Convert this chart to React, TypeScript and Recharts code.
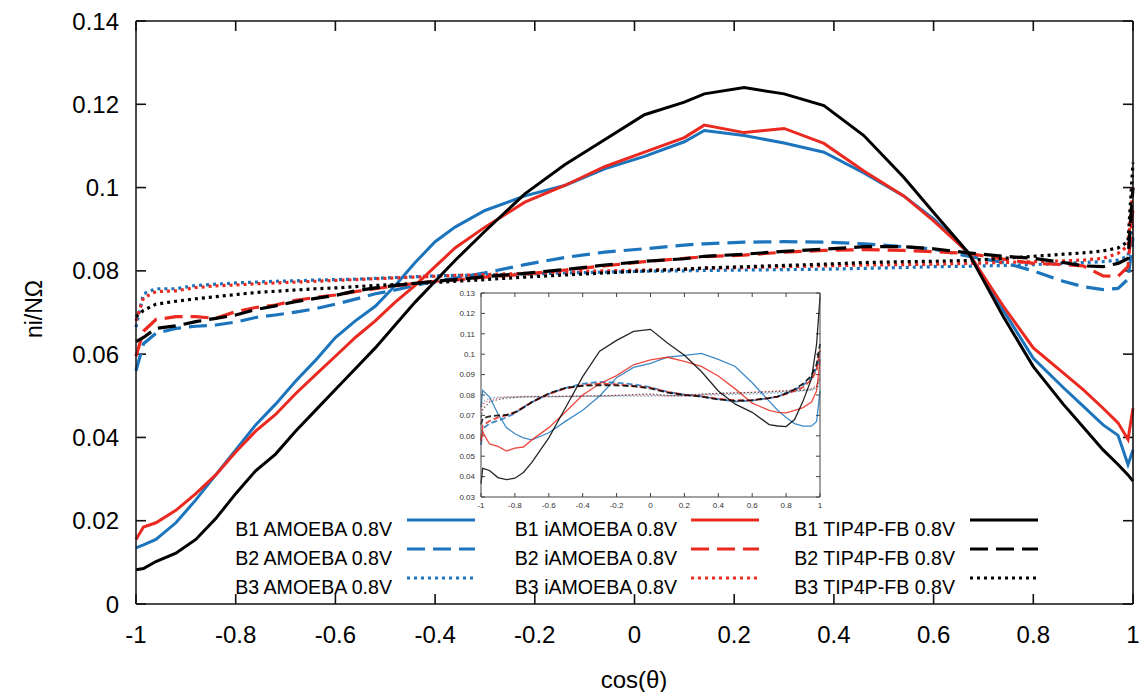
import { Line, LineChart, ReferenceLine, XAxis, YAxis } from "recharts"

const BLUE = "#1c75bc"
const RED = "#ea2a20"
const BLACK = "#000000"
const FONT = '"Liberation Sans", Arial, sans-serif'

// main plot, x = cos(theta)
const mainCos = [-1, -0.985, -0.96, -0.92, -0.88, -0.84, -0.8, -0.76, -0.72, -0.68, -0.64, -0.6, -0.56, -0.52, -0.48, -0.44, -0.4, -0.36, -0.3, -0.22, -0.14, -0.06, 0.02, 0.1, 0.14, 0.22, 0.3, 0.38, 0.46, 0.54, 0.6, 0.67, 0.74, 0.8, 0.86, 0.9, 0.94, 0.97, 0.99, 1]

const b1Amoeba = [0.0135, 0.0142, 0.0155, 0.0195, 0.025, 0.031, 0.037, 0.043, 0.048, 0.0535, 0.0585, 0.064, 0.068, 0.0715, 0.0765, 0.082, 0.087, 0.0905, 0.0945, 0.098, 0.1005, 0.1045, 0.1075, 0.111, 0.1137, 0.1125, 0.1107, 0.1085, 0.1035, 0.098, 0.0925, 0.0843, 0.0705, 0.059, 0.052, 0.0475, 0.043, 0.0405, 0.0335, 0.037]
const b1Iamoeba = [0.0155, 0.0185, 0.0195, 0.0225, 0.0265, 0.031, 0.0365, 0.0415, 0.0455, 0.0505, 0.055, 0.0595, 0.064, 0.068, 0.0725, 0.0765, 0.081, 0.0855, 0.0905, 0.0965, 0.1005, 0.105, 0.1085, 0.112, 0.115, 0.1132, 0.1142, 0.1106, 0.104, 0.098, 0.092, 0.0843, 0.0715, 0.0615, 0.0555, 0.0515, 0.047, 0.0435, 0.0395, 0.047]
const b1Tip4p = [0.0082, 0.0085, 0.0102, 0.0122, 0.0155, 0.0205, 0.0265, 0.032, 0.036, 0.0415, 0.0465, 0.0515, 0.0565, 0.0615, 0.067, 0.0725, 0.0775, 0.0825, 0.0895, 0.0985, 0.1055, 0.1115, 0.1175, 0.1205, 0.1225, 0.124, 0.1225, 0.1197, 0.1125, 0.1025, 0.094, 0.0843, 0.069, 0.057, 0.048, 0.0425, 0.037, 0.0335, 0.031, 0.0295]
const b2Amoeba = [0.056, 0.0625, 0.065, 0.0662, 0.0667, 0.067, 0.0677, 0.0688, 0.0694, 0.0701, 0.0709, 0.072, 0.0732, 0.0745, 0.0754, 0.0765, 0.0775, 0.0782, 0.0795, 0.0815, 0.0832, 0.0845, 0.0853, 0.0862, 0.0865, 0.0869, 0.087, 0.0869, 0.0865, 0.0858, 0.0852, 0.0835, 0.082, 0.08, 0.0775, 0.0762, 0.0755, 0.0758, 0.078, 0.088]
const b2Iamoeba = [0.0595, 0.0655, 0.0683, 0.069, 0.069, 0.0686, 0.0702, 0.0712, 0.0718, 0.0729, 0.0736, 0.0742, 0.075, 0.0757, 0.0764, 0.077, 0.0775, 0.0778, 0.0785, 0.0792, 0.0802, 0.0812, 0.0822, 0.083, 0.0834, 0.0838, 0.0845, 0.0849, 0.0851, 0.0849, 0.0846, 0.0842, 0.0828, 0.0818, 0.0815, 0.0812, 0.0788, 0.0787, 0.081, 0.095]
const b2Tip4p = [0.063, 0.064, 0.0662, 0.0668, 0.0678, 0.0686, 0.0694, 0.0707, 0.0716, 0.0726, 0.0734, 0.0741, 0.0752, 0.0759, 0.0765, 0.077, 0.0775, 0.0779, 0.0786, 0.0794, 0.0803, 0.0814, 0.0823, 0.0829, 0.0835, 0.084, 0.0847, 0.0852, 0.0858, 0.0858, 0.0853, 0.0843, 0.0835, 0.083, 0.082, 0.0812, 0.081, 0.0818, 0.083, 0.1]
const b3Amoeba = [0.0665, 0.0745, 0.0757, 0.0757, 0.0765, 0.0768, 0.0771, 0.0773, 0.0775, 0.0776, 0.0778, 0.0779, 0.078, 0.0782, 0.0784, 0.0786, 0.0788, 0.0789, 0.079, 0.0792, 0.0795, 0.0797, 0.0799, 0.08, 0.0801, 0.0802, 0.0803, 0.0804, 0.0806, 0.0808, 0.081, 0.0811, 0.0813, 0.0815, 0.0818, 0.082, 0.0822, 0.0826, 0.0835, 0.092]
const b3Iamoeba = [0.068, 0.0735, 0.075, 0.0752, 0.076, 0.0764, 0.0766, 0.0769, 0.0771, 0.0773, 0.0775, 0.0777, 0.0779, 0.0781, 0.0783, 0.0785, 0.0787, 0.0789, 0.0791, 0.0794, 0.0797, 0.08, 0.0802, 0.0804, 0.0806, 0.0808, 0.081, 0.0812, 0.0814, 0.0815, 0.0816, 0.0818, 0.082, 0.0822, 0.0824, 0.0826, 0.083, 0.0842, 0.086, 0.1]
const b3Tip4p = [0.069, 0.0705, 0.072, 0.0727, 0.0733, 0.0738, 0.0743, 0.0748, 0.0751, 0.0754, 0.0757, 0.0759, 0.0762, 0.0765, 0.0767, 0.077, 0.0772, 0.0775, 0.0779, 0.0785, 0.079, 0.0795, 0.08, 0.0804, 0.0807, 0.081, 0.0813, 0.0816, 0.082, 0.0822, 0.0823, 0.0825, 0.083, 0.0835, 0.084, 0.0843, 0.0848, 0.0855, 0.087, 0.106]

// inset plot
const insetCos = [-1, -0.99, -0.95, -0.9, -0.85, -0.8, -0.75, -0.7, -0.6, -0.5, -0.4, -0.3, -0.2, -0.1, 0, 0.1, 0.2, 0.3, 0.4, 0.5, 0.6, 0.7, 0.75, 0.8, 0.85, 0.9, 0.95, 0.98, 1]

const inB1Amoeba = [0.074, 0.0823, 0.079, 0.0708, 0.064, 0.061, 0.059, 0.058, 0.0615, 0.0672, 0.0725, 0.0795, 0.0885, 0.0935, 0.0955, 0.0985, 0.0994, 0.1004, 0.0975, 0.094, 0.086, 0.077, 0.0725, 0.069, 0.066, 0.0647, 0.0647, 0.067, 0.082]
const inB1Iamoeba = [0.057, 0.0619, 0.056, 0.0548, 0.0525, 0.054, 0.0545, 0.058, 0.064, 0.0718, 0.08, 0.0855, 0.0895, 0.0948, 0.0972, 0.0985, 0.0965, 0.094, 0.0893, 0.083, 0.076, 0.0725, 0.0715, 0.0712, 0.0725, 0.0738, 0.0765, 0.082, 0.097]
const inB1Tip4p = [0.0365, 0.044, 0.043, 0.0395, 0.0385, 0.0392, 0.042, 0.047, 0.059, 0.074, 0.089, 0.1015, 0.1068, 0.1112, 0.1122, 0.1055, 0.0995, 0.0915, 0.082, 0.0755, 0.0715, 0.0655, 0.0648, 0.0645, 0.068, 0.077, 0.088, 0.105, 0.128]
const inB2Amoeba = [0.0555, 0.0635, 0.066, 0.0675, 0.069, 0.071, 0.074, 0.0765, 0.0805, 0.0835, 0.0855, 0.0864, 0.086, 0.0852, 0.0838, 0.0815, 0.0802, 0.0793, 0.078, 0.0768, 0.0772, 0.0785, 0.0792, 0.0808, 0.0825, 0.0848, 0.0885, 0.093, 0.0985]
const inB2Iamoeba = [0.058, 0.065, 0.0672, 0.069, 0.07, 0.0715, 0.074, 0.0765, 0.0805, 0.0832, 0.0848, 0.0856, 0.0852, 0.0845, 0.0835, 0.0815, 0.0802, 0.0793, 0.0782, 0.0774, 0.0774, 0.0785, 0.0792, 0.0805, 0.082, 0.0838, 0.0875, 0.092, 0.102]
const inB2Tip4p = [0.0655, 0.0685, 0.0695, 0.07, 0.0702, 0.0715, 0.0738, 0.0765, 0.0808, 0.0835, 0.0845, 0.0848, 0.0847, 0.0843, 0.0832, 0.0812, 0.08, 0.0792, 0.0778, 0.0771, 0.0775, 0.0785, 0.0792, 0.0808, 0.0828, 0.0855, 0.0895, 0.095, 0.105]
const inB3Amoeba = [0.074, 0.0765, 0.0785, 0.079, 0.079, 0.079, 0.0791, 0.0791, 0.0792, 0.0792, 0.0793, 0.0793, 0.0794, 0.0794, 0.0795, 0.0796, 0.0798, 0.08, 0.0801, 0.0803, 0.0805, 0.0808, 0.081, 0.0813, 0.0816, 0.082, 0.0825, 0.083, 0.0855]
const inB3Iamoeba = [0.0725, 0.0755, 0.0775, 0.0785, 0.079, 0.0792, 0.0793, 0.0793, 0.0794, 0.0795, 0.0796, 0.0797, 0.0798, 0.0799, 0.08, 0.0795, 0.0795, 0.0802, 0.0806, 0.081, 0.0814, 0.0818, 0.082, 0.0822, 0.0825, 0.0828, 0.0832, 0.0845, 0.0885]
const inB3Tip4p = [0.069, 0.073, 0.0765, 0.0778, 0.0785, 0.0788, 0.079, 0.0791, 0.0792, 0.0793, 0.0794, 0.0795, 0.0798, 0.0802, 0.0805, 0.0798, 0.0797, 0.0805, 0.0808, 0.081, 0.0812, 0.0815, 0.0817, 0.0819, 0.0821, 0.0823, 0.0826, 0.084, 0.0885]

const xTicks = [-1, -0.8, -0.6, -0.4, -0.2, 0, 0.2, 0.4, 0.6, 0.8, 1]
const yTicks = [0, 0.02, 0.04, 0.06, 0.08, 0.1, 0.12, 0.14]
const insetYTicks = [0.03, 0.04, 0.05, 0.06, 0.07, 0.08, 0.09, 0.1, 0.11, 0.12, 0.13]

type Style = "solid" | "dashed" | "dotted"

// col = legend column (force field), row = legend row (bin)
const series: { key: string; name: string; color: string; style: Style; main: number[]; inset: number[]; col: number; row: number }[] = [
  { key: "b1a", name: "B1 AMOEBA 0.8V", color: BLUE, style: "solid", main: b1Amoeba, inset: inB1Amoeba, col: 0, row: 0 },
  { key: "b2a", name: "B2 AMOEBA 0.8V", color: BLUE, style: "dashed", main: b2Amoeba, inset: inB2Amoeba, col: 0, row: 1 },
  { key: "b3a", name: "B3 AMOEBA 0.8V", color: BLUE, style: "dotted", main: b3Amoeba, inset: inB3Amoeba, col: 0, row: 2 },
  { key: "b1i", name: "B1 iAMOEBA 0.8V", color: RED, style: "solid", main: b1Iamoeba, inset: inB1Iamoeba, col: 1, row: 0 },
  { key: "b2i", name: "B2 iAMOEBA 0.8V", color: RED, style: "dashed", main: b2Iamoeba, inset: inB2Iamoeba, col: 1, row: 1 },
  { key: "b3i", name: "B3 iAMOEBA 0.8V", color: RED, style: "dotted", main: b3Iamoeba, inset: inB3Iamoeba, col: 1, row: 2 },
  { key: "b1t", name: "B1 TIP4P-FB 0.8V", color: BLACK, style: "solid", main: b1Tip4p, inset: inB1Tip4p, col: 2, row: 0 },
  { key: "b2t", name: "B2 TIP4P-FB 0.8V", color: BLACK, style: "dashed", main: b2Tip4p, inset: inB2Tip4p, col: 2, row: 1 },
  { key: "b3t", name: "B3 TIP4P-FB 0.8V", color: BLACK, style: "dotted", main: b3Tip4p, inset: inB3Tip4p, col: 2, row: 2 },
]

const mainDash: Record<Style, string | undefined> = { solid: undefined, dashed: "18 8", dotted: "3 4" }
const insetDash: Record<Style, string | undefined> = { solid: undefined, dashed: "6 3", dotted: "1.5 2" }

const mainData = mainCos.map((x, i) => {
  const row: Record<string, number> = { x }
  series.forEach((s) => (row[s.key] = s.main[i]))
  return row
})

const insetData = insetCos.map((x, i) => {
  const row: Record<string, number> = { x }
  series.forEach((s) => (row[s.key] = s.inset[i]))
  return row
})

const axisColor = "#111"
const tickFont = { fill: "#000", fontSize: 24, fontFamily: FONT }
const insetTickFont = { fill: "#333", fontSize: 8, fontFamily: FONT }

// legend layout (gnuplot style: right-aligned text, then sample)
const legendTextEnd = [392, 677, 955]
const legendSampleX = [407, 691, 970]
const legendRowY = [529, 558, 587]

// gnuplot draws short inward ticks on both ends of every tick position;
// a ReferenceLine gives the full span, the shape keeps only its two ends
function endTicks(len: number, color: string, width: number) {
  return (p: any) => {
    const { x1, y1, x2, y2 } = p
    const vertical = Math.abs(x1 - x2) < 0.5
    if (vertical) {
      const top = Math.min(y1, y2)
      const bottom = Math.max(y1, y2)
      return (
        <g stroke={color} strokeWidth={width}>
          <line x1={x1} x2={x1} y1={top} y2={top + len} />
          <line x1={x1} x2={x1} y1={bottom - len} y2={bottom} />
        </g>
      )
    }
    const left = Math.min(x1, x2)
    const right = Math.max(x1, x2)
    return (
      <g stroke={color} strokeWidth={width}>
        <line x1={left} x2={left + len} y1={y1} y2={y1} />
        <line x1={right - len} x2={right} y1={y1} y2={y1} />
      </g>
    )
  }
}

function frame(yTickList: number[], yDomain: number[], len: number, color: string, width: number) {
  return [
    <XAxis key="xt" xAxisId="xt" orientation="top" mirror type="number" domain={[-1, 1]} ticks={xTicks} tickLine={false} tick={false} stroke={color} strokeWidth={width} />,
    <YAxis key="yr" yAxisId="yr" orientation="right" mirror type="number" domain={yDomain} ticks={yTickList} tickLine={false} tick={false} stroke={color} strokeWidth={width} />,
    ...xTicks.map((t) => <ReferenceLine key={`tx${t}`} x={t} shape={endTicks(len, color, width)} />),
    ...yTickList.map((t) => <ReferenceLine key={`ty${t}`} y={t} shape={endTicks(len, color, width)} />),
  ]
}

function Inset() {
  return (
    <div style={{ position: "absolute", left: 452, top: 289, width: 372, height: 225, background: "#fff" }}>
      <LineChart width={372} height={225} data={insetData} margin={{ top: 4, right: 4, bottom: 0, left: 0 }}>
        <XAxis dataKey="x" type="number" domain={[-1, 1]} ticks={xTicks} interval={0} height={17} tickSize={0} tickLine={false} tickMargin={5} stroke="#444" tick={insetTickFont} />
        <YAxis type="number" domain={[0.03, 0.13]} ticks={insetYTicks} interval={0} width={29} tickSize={0} tickLine={false} tickMargin={6} stroke="#444" tick={insetTickFont} />
        {frame(insetYTicks, [0.03, 0.13], 4, "#444", 1)}
        {series.map((s) => (
          <Line
            key={s.key}
            dataKey={s.key}
            type="linear"
            stroke={s.color}
            strokeOpacity={s.style === "dotted" ? 0.6 : 0.85}
            strokeWidth={s.style === "dashed" ? 1.8 : 1.3}
            strokeDasharray={insetDash[s.style]}
            dot={false}
            isAnimationActive={false}
          />
        ))}
      </LineChart>
    </div>
  )
}

function Overlay() {
  return (
    <svg width={1142} height={692} style={{ position: "absolute", left: 0, top: 0, pointerEvents: "none" }} fontFamily={FONT}>
      <text x={34} y={309} transform="rotate(-90 34 309)" textAnchor="middle" dominantBaseline="central" fontSize={23} fill="#000">
        ni/NΩ
      </text>
      <text x={634} y={679} textAnchor="middle" dominantBaseline="central" fontSize={24} fill="#000">
        cos(θ)
      </text>
      {series.map((s) => (
        <g key={s.key}>
          <text x={legendTextEnd[s.col]} y={legendRowY[s.row]} textAnchor="end" dominantBaseline="central" fontSize={19.6} fill="#000">
            {s.name}
          </text>
          <line
            x1={legendSampleX[s.col]}
            x2={legendSampleX[s.col] + 68}
            y1={legendRowY[s.row] - 9}
            y2={legendRowY[s.row] - 9}
            stroke={s.color}
            strokeWidth={3}
            strokeDasharray={mainDash[s.style]}
          />
        </g>
      ))}
    </svg>
  )
}

export default function App() {
  return (
    <div style={{ position: "absolute", left: 0, top: 0, width: 1142, height: 692, background: "#fff", fontFamily: FONT }}>
      <LineChart width={1142} height={692} data={mainData} margin={{ top: 21, right: 9, bottom: 38, left: 0 }}>
        <XAxis dataKey="x" type="number" domain={[-1, 1]} ticks={xTicks} interval={0} height={50} tickSize={0} tickLine={false} tickMargin={22} stroke={axisColor} strokeWidth={1.5} tick={tickFont} />
        <YAxis type="number" domain={[0, 0.14]} ticks={yTicks} interval={0} width={136} tickSize={0} tickLine={false} tickMargin={17} stroke={axisColor} strokeWidth={1.5} tick={tickFont} />
        {frame(yTicks, [0, 0.14], 10, axisColor, 1.6)}
        {series.map((s) => (
          <Line
            key={s.key}
            dataKey={s.key}
            name={s.name}
            type="linear"
            stroke={s.color}
            strokeWidth={s.style === "solid" ? 3 : 3.2}
            strokeDasharray={mainDash[s.style]}
            dot={false}
            isAnimationActive={false}
          />
        ))}
      </LineChart>
      <Inset />
      <Overlay />
    </div>
  )
}
